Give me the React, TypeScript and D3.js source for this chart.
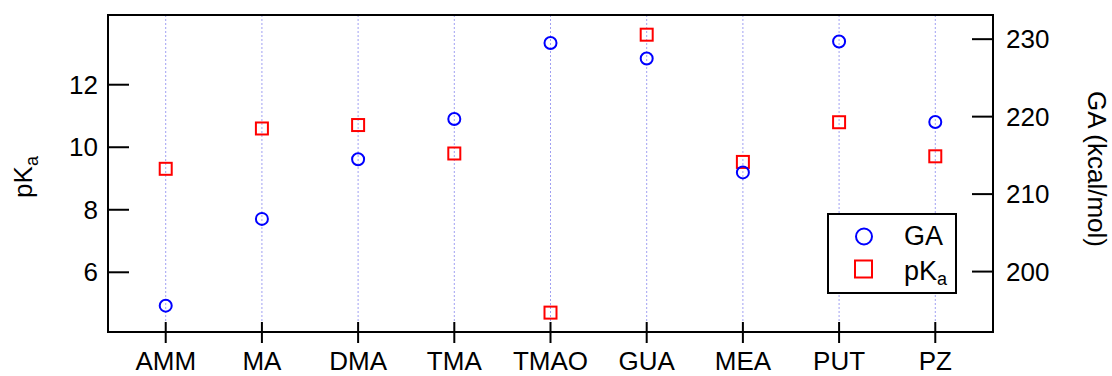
import React from "react";
import * as d3 from "d3";

const categories = ["AMM", "MA", "DMA", "TMA", "TMAO", "GUA", "MEA", "PUT", "PZ"];
const gaValues = [195.6, 206.8, 214.5, 219.7, 229.5, 227.5, 212.8, 229.7, 219.3];
const pkaValues = [9.31, 10.6, 10.71, 9.8, 4.71, 13.6, 9.53, 10.8, 9.71];
const leftTicks = [6, 8, 10, 12];
const rightTicks = [200, 210, 220, 230];

const W = 1112;
const H = 376;
const M = { left: 108, right: 993, top: 15, bottom: 332 };
const FONT = "'Liberation Sans', Arial, sans-serif";

export default function App() {
  const x = d3.scalePoint<string>().domain(categories).range([M.left, M.right]).padding(0.6);
  const yL = d3.scaleLinear().domain([4.09, 14.23]).range([M.bottom, M.top]);
  const yR = d3.scaleLinear().domain([192.2, 233.12]).range([M.bottom, M.top]);
  const blue = "#0000ff";
  const red = "#ff0000";

  return (
    <svg width={W} height={H} style={{ position: "absolute", left: 0, top: 0 }} fontFamily={FONT}>
      <rect width={W} height={H} fill="white" />
      {categories.map((c) => (
        <line key={"g" + c} x1={x(c)} x2={x(c)} y1={M.top} y2={M.bottom} stroke="#a0a0f2" strokeWidth={1} strokeDasharray="2 2" />
      ))}
      <rect x={M.left} y={M.top} width={M.right - M.left} height={M.bottom - M.top} fill="none" stroke="black" strokeWidth={2} />
      {categories.map((c) => (
        <g key={"xt" + c}>
          <line x1={x(c)} x2={x(c)} y1={M.bottom - 10} y2={M.bottom + 11} stroke="black" strokeWidth={2} />
          <text x={x(c)} y={370} textAnchor="middle" fontSize={26}>{c}</text>
        </g>
      ))}
      {leftTicks.map((t) => (
        <g key={"yl" + t}>
          <line x1={M.left} x2={M.left + 21} y1={yL(t)} y2={yL(t)} stroke="black" strokeWidth={2} />
          <text x={98} y={yL(t)} dy="0.35em" textAnchor="end" fontSize={26}>{t}</text>
        </g>
      ))}
      {rightTicks.map((t) => (
        <g key={"yr" + t}>
          <line x1={M.right - 21} x2={M.right} y1={yR(t)} y2={yR(t)} stroke="black" strokeWidth={2} />
          <text x={1006} y={yR(t)} dy="0.35em" textAnchor="start" fontSize={26}>{t}</text>
        </g>
      ))}
      <text transform="translate(32,177) rotate(-90)" textAnchor="middle" fontSize={26}>
        pK<tspan fontSize={18} dy={6}>a</tspan>
      </text>
      <text transform="translate(1088,169) rotate(90)" textAnchor="middle" fontSize={26}>GA (kcal/mol)</text>
      {categories.map((c, i) => (
        <rect key={"s" + c} x={x(c)! - 6} y={yL(pkaValues[i]) - 6} width={12} height={12} fill="none" stroke={red} strokeWidth={2} />
      ))}
      {categories.map((c, i) => (
        <circle key={"c" + c} cx={x(c)} cy={yR(gaValues[i])} r={6} fill="none" stroke={blue} strokeWidth={2} />
      ))}
      <g>
        <rect x={828} y={214} width={128} height={79} fill="white" stroke="black" strokeWidth={2} />
        <circle cx={864} cy={236.5} r={8} fill="none" stroke={blue} strokeWidth={2} />
        <rect x={855} y={260.5} width={17} height={17} fill="none" stroke={red} strokeWidth={2} />
        <text x={904} y={245} fontSize={27}>GA</text>
        <text x={904} y={280} fontSize={27}>pK<tspan fontSize={18} dy={5}>a</tspan></text>
      </g>
    </svg>
  );
}
